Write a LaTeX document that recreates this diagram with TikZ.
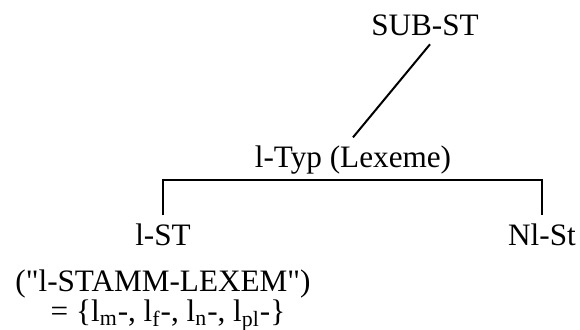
\documentclass[tikz,border=0pt]{standalone}
\usepackage{fontspec}
\setmainfont{Liberation Serif}[Ligatures=TeXOff]
\usepackage{tikz}
\usetikzlibrary{positioning}

\begin{document}
\begin{tikzpicture}[x=0.5pt,y=-0.5pt,line width=1pt,
	word node/.style={inner sep=0pt,anchor=base,font=\fontsize{15.6}{18}\selectfont},
	leaf node/.style={word node,inner sep=3.5pt}]
	
	\useasboundingbox (0,0) rectangle (580,329);
	
	\node[word node] (sub) at (425,35) {SUB-ST};
	\node[word node] (typ) at (353,167) {l-Typ (Lexeme)};
	\node[leaf node] (lst) at (163,245) {l-ST};
	\node[leaf node] (nlst) at (542,245) {Nl-St};
	\node[word node,text depth=0pt] (quote) at (163,291) {("l-STAMM-LEXEM")};
	\node[word node,text height=8pt] (set) at (168,321) {= \{l\textsubscript{m}-, l\textsubscript{f}-, l\textsubscript{n}-, l\textsubscript{pl}-\}};
	\coordinate (bar) at (353,180);
	
	\draw ([xshift=2.5pt,yshift=-4pt]sub.south) -- ([yshift=3.5pt]typ.north);
	\draw (lst.north) |- (bar) -| (nlst.north);
\end{tikzpicture}
\end{document}
